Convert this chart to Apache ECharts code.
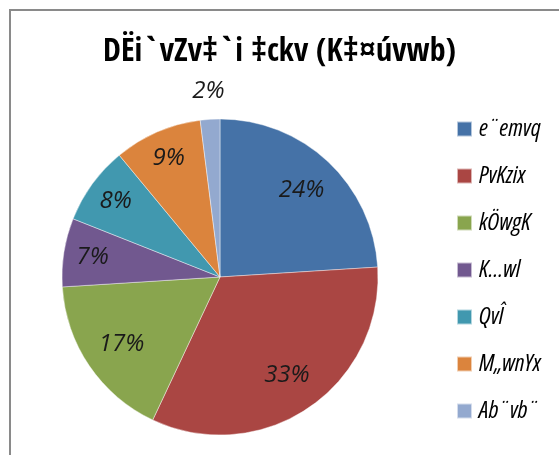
<!DOCTYPE html>
<html>
<head>
<meta charset="utf-8">
<script src="https://cdn.jsdelivr.net/npm/echarts@6/dist/echarts.min.js"></script>
<style>
	html, body { margin: 0; padding: 0; background: #fff; }
	#chart { width: 559px; height: 455px; }
</style>
</head>
<body>
<div id="chart"></div>
<script>
// data
var titleText = 'DËi`vZv‡`i ‡ckv (K‡¤úvwb)';
var categories = ['e¨emvq', 'PvKzix', 'kÖwgK', 'K…wl', 'QvÎ', 'M„wnYx', 'Ab¨vb¨'];
var shares = [24, 33, 17, 7, 8, 9, 2];
var colors = ['#4572A7', '#AA4643', '#89A54E', '#71588F', '#4198AF', '#DB843D', '#93A9CF'];

var font = "'Open Sans', sans-serif";
var center = [220, 277];

var chart = echarts.init(document.getElementById('chart'));

var pieData = categories.map(function(name, i) {
	return { name: name, value: shares[i] };
});

// transparent rings, only used to place the percent labels at different depths
function labelRing(radius, which) {
	return {
		type: 'pie',
		center: center,
		radius: radius,
		startAngle: 90,
		clockwise: true,
		silent: true,
		itemStyle: { color: 'rgba(0,0,0,0)' },
		label: {
			show: true,
			position: 'inside',
			formatter: '{d}%',
			fontFamily: font,
			fontSize: 24,
			fontStyle: 'italic',
			color: '#1a1a1a',
		},
		labelLine: { show: false },
		data: categories.map(function(name, i) {
			return {
				name: name,
				value: shares[i],
				label: { show: which.indexOf(i) > -1 },
			};
		}),
	};
}

chart.setOption({
	animation: false,
	color: colors,
	title: {
		text: titleText,
		left: 'center',
		top: 32,
		textStyle: { fontFamily: "'Open Sans Condensed', sans-serif", fontSize: 32, fontWeight: 'bold', color: '#000' },
	},
	legend: {
		orient: 'vertical',
		left: 456,
		top: 117,
		padding: 0,
		itemWidth: 15,
		itemHeight: 15,
		itemGap: 23,
		icon: 'rect',
		data: categories,
		textStyle: {
			fontFamily: font,
			fontSize: 24,
			fontStyle: 'italic',
			fontWeight: 'condensed', // ends up in the font shorthand as font-stretch
			color: '#000',
			lineHeight: 24,
			padding: [0, 0, 0, 2],
		},
	},
	graphic: [
		{
			type: 'rect',
			shape: { x: 10, y: 10, width: 600, height: 500 },
			style: { fill: 'none', stroke: '#8a8a8a', lineWidth: 2 },
			silent: true,
		},
	],
	series: [
		{
			type: 'pie',
			center: center,
			radius: [0, 158],
			startAngle: 90,
			clockwise: true,
			label: { show: false },
			labelLine: { show: false },
			itemStyle: { borderColor: 'rgba(255,255,255,0.6)', borderWidth: 0.7 },
			data: pieData,
			silent: true,
		},
		labelRing([74, 158], [0, 1, 2]),
		labelRing([94, 158], [3, 4, 5]),
		labelRing([170, 196], [6]),
	],
});
</script>
</body>
</html>
